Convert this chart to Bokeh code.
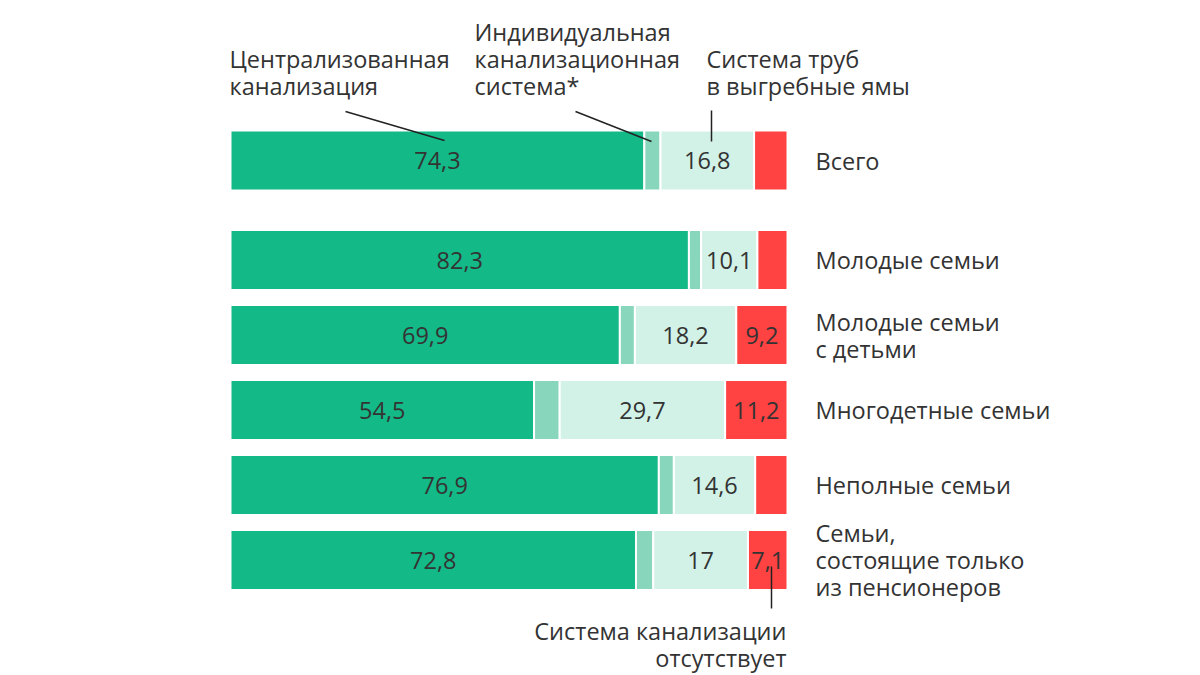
import numpy as np
from bokeh.plotting import figure
from bokeh.models import Range1d
from bokeh.core.properties import value
from bokeh.embed import file_html
from bokeh.resources import INLINE

# ---- data ----
categories = ["Всего", "Молодые семьи", "Молодые семьи\nс детьми", "Многодетные семьи",
              "Неполные семьи", "Семьи,\nсостоящие только\nиз пенсионеров"]
central = [74.3, 82.3, 69.9, 54.5, 76.9, 72.8]
individual = [2.9, 2.2, 2.7, 4.6, 2.7, 3.1]
pits = [16.8, 10.1, 18.2, 29.7, 14.6, 17.0]
absent = [6.0, 5.4, 9.2, 11.2, 5.8, 7.1]
absent_labels = ["", "", "9,2", "11,2", "", "7,1"]
series_names = ["Централизованная\nканализация", "Индивидуальная\nканализационная\nсистема*",
                "Система труб\nв выгребные ямы", "Система канализации\nотсутствует"]

# ---- layout ----
FONT = "Open Sans"
FS = "23.5px"
W, H = 1200, 675
X0PX, X100PX = 230, 787
pxu = 100.0 / (X100PX - X0PX)
row_y = [160, 259.5, 334.5, 409.5, 484.5, 559.5]   # screen pixel centres
BAR_H = 60
colors = ["#13b987", "#88d7bc", "#d2f1e7", "#ff4242"]
TXT = "#333333"

def fmt(v):
    s = ("%.1f" % v).rstrip("0").rstrip(".")
    return s.replace(".", ",")

p = figure(width=W, height=H, output_backend="svg", toolbar_location=None,
           x_range=Range1d((0 - X0PX) * pxu, (W - X0PX) * pxu),
           y_range=Range1d(H, 0), min_border=0)
p.axis.visible = False
p.grid.visible = False
p.outline_line_color = None
p.background_fill_color = "white"

series = [central, individual, pits, absent]
left = np.zeros(len(categories))
for vals, col in zip(series, colors):
    vals = np.array(vals)
    p.hbar(y=row_y, left=left, right=left + vals, height=BAR_H,
           fill_color=col, line_color="white", line_width=2)
    left = left + vals

starts = np.cumsum([[0] * 6] + series, axis=0)
mid_c = (starts[0] + starts[1]) / 2
mid_p = (starts[2] + starts[3]) / 2
mid_a = (starts[3] + starts[4]) / 2

def txt(x, y, t, align="center", size=FS, baseline="middle"):
    p.text(x=x, y=y, text=t, text_align=align, text_baseline=baseline,
           text_font=value(FONT), text_font_size=size, text_color=TXT)

txt(list(mid_c), row_y, [fmt(v) for v in central])
txt(list(mid_p), row_y, [fmt(v) for v in pits])
txt(list(mid_a), row_y, absent_labels)

# category labels
LH = 27
for cat, y in zip(categories, row_y):
    lines = cat.split("\n")
    n = len(lines)
    ys = [y + (i - (n - 1) / 2) * LH for i in range(n)]
    txt([(815 - X0PX) * pxu] * n, ys, lines, align="left")

# series annotations on top
def block(xpx, ylast, name, align="left"):
    lines = name.split("\n")
    n = len(lines)
    ys = [ylast - (n - 1 - i) * LH for i in range(n)]
    txt([(xpx - X0PX) * pxu] * n, ys, lines, align=align)

block(229, 85, series_names[0])
block(474, 85, series_names[1])
block(706, 85, series_names[2])
lines = series_names[3].split("\n")
txt([(786 - X0PX) * pxu] * 2, [630, 657], lines, align="right")

# leader lines
def seg(x0, y0, x1, y1):
    p.line([(x0 - X0PX) * pxu, (x1 - X0PX) * pxu], [y0, y1], line_color="#222222", line_width=1.5)

seg(345, 111, 444, 140)
seg(575, 111, 651, 141)
seg(711, 110, 711, 141)
seg(771, 566, 771, 608)

open("out.html", "w").write(file_html(p, INLINE))
